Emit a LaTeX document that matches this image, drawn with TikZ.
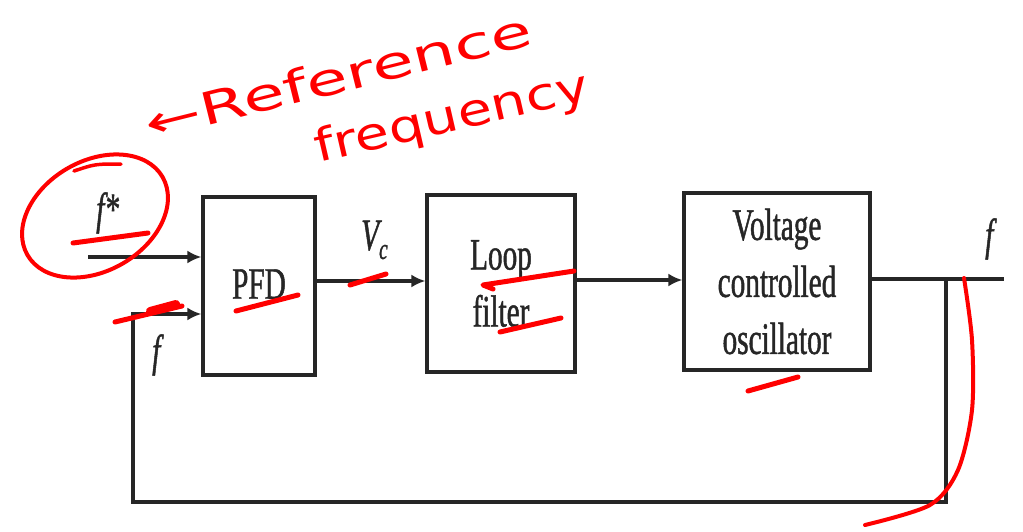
\documentclass[tikz,border=0pt]{standalone}
\usepackage{fontspec}
\setmainfont{Liberation Serif}
\newfontfamily\bk[FakeStretch=0.65,FakeBold=1]{Liberation Serif}
\newfontfamily\hand{DejaVu Sans}
\usetikzlibrary{arrows.meta,calc}
\begin{document}
\begin{tikzpicture}[x=1pt,y=-1pt]
\tikzset{
 blk/.style={draw=black!85, line width=3.2pt, font=\bk\fontsize{45}{57}\selectfont, align=center, inner sep=0pt, text=black!85},
 wire/.style={draw=black!85, line width=3.2pt},
 arr/.style={wire, -{Latex[length=14pt,width=13pt]}},
 lbl/.style={font=\bk\itshape\fontsize{45}{57}\selectfont, inner sep=0pt, text=black!85},
 ink/.style={draw=red, line width=5pt, line cap=round, line join=round},
 inktext/.style={text=red, font=\hand\fontsize{45}{45}\selectfont, inner sep=0pt, transform shape}
}
\useasboundingbox (0,0) rectangle (1023,531);
% blocks
\node[blk, minimum width=112pt, minimum height=178pt] (pfd) at (259,286) {\raisebox{4pt}{PFD}};
\node[blk, minimum width=148pt, minimum height=177pt] (loop) at (501,283.5) {Loop\\filter};
\node[blk, minimum width=186pt, minimum height=177pt] (vco) at (777,281.5) {Voltage\\controlled\\oscillator};
% helper coordinates
\coordinate (fs) at (88,257);
\coordinate (vcy) at (0,281);
\coordinate (lfy) at (0,280);
\coordinate (j) at (946,279);
\coordinate (out) at (1004,279);
\coordinate (bot) at (0,502);
\coordinate (fb) at (133,314);
% connectors
\draw[arr] (fs) -- (fs -| pfd.west);
\draw[arr] (pfd.east |- vcy) -- (loop.west |- vcy);
\draw[arr] (loop.east |- lfy) -- (vco.west |- lfy);
\draw[wire] (vco.east |- j) -- (out);
\draw[arr] (j) -- (j |- bot) -| (fb) -- (fb -| pfd.west);
% labels
\node[lbl, anchor=base west] (fstarl) at (96,224) {f*};
\node[lbl, anchor=base west] (fl) at (152,366) {f};
\node[lbl, anchor=base west] (vcl) at (361,250) {V\raisebox{-9pt}{\fontsize{30}{30}\selectfont c}};
\node[lbl, anchor=base west] (fo) at (985,250) {f};
% red annotations
\draw[ink, line width=4pt, rotate around={30:(95,216)}] (95,216) ellipse [x radius=78, y radius=55];
\draw[ink, line width=3.5pt] (74,171) .. controls (95,164) .. (121,164);
\draw[ink] (73,243) -- (148,233);
\draw[ink] (115,322) -- (182,306);
\draw[ink, line width=8pt] (150,311) -- (176,304);
\draw[ink] (236,311) -- (298,295);
\draw[ink] (350,285) -- (386,274);
\draw[ink] (493,289) -- (483,285) -- (574,271);
\draw[ink] (500,332) -- (561,318);
\draw[ink] (748,391) -- (798,377);
\draw[ink, line width=4pt] plot[smooth] coordinates {(964,278) (972,340) (972,410) (958,470) (930,505) (865,525)};
\begin{scope}[shift={(338,76)}]
\node[inktext, rotate=14, xscale=1.5] (ref1) at (0,0) {←Reference};
\end{scope}
\begin{scope}[shift={(452,119)}]
\node[inktext, rotate=13, xscale=1.24] (ref2) at (0,0) {frequency};
\end{scope}
\end{tikzpicture}
\end{document}
